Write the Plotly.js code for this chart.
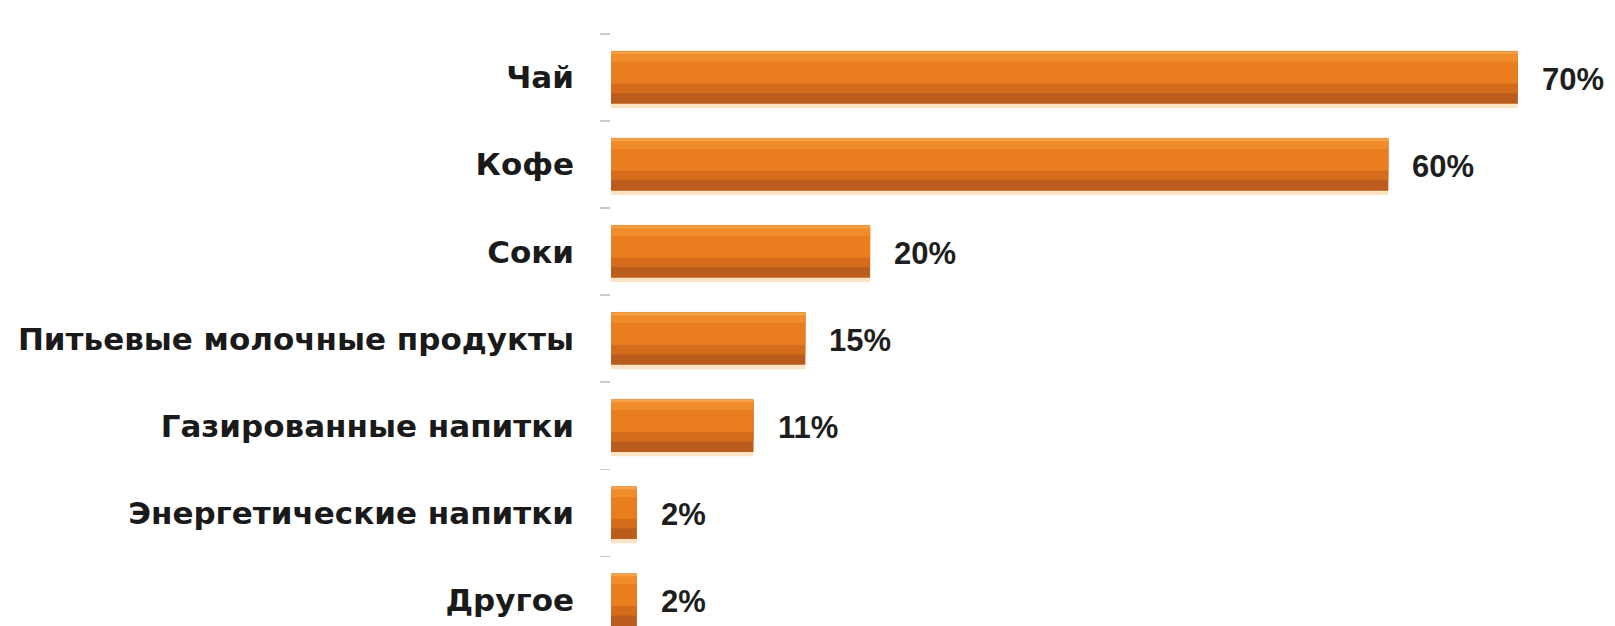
<!DOCTYPE html>
<html>
<head>
<meta charset="utf-8">
<script src="https://cdn.plot.ly/plotly-3.0.1.min.js"></script>
<style>html,body{margin:0;padding:0;background:#fff;}</style>
</head>
<body>
<div id="chart" style="width:1615px;height:626px;"></div>
<script>
const categories = ["Чай", "Кофе", "Соки", "Питьевые молочные продукты", "Газированные напитки", "Энергетические напитки", "Другое"];
const values = [70, 60, 20, 15, 11, 2, 2];
const valueLabels = ["70%", "60%", "20%", "15%", "11%", "2%", "2%"];

const labelFont = "DejaVu Sans, Liberation Sans, Arial, sans-serif";
const valueFont = "Liberation Sans, Arial, sans-serif";

const base = {
  type: "bar", orientation: "h", x: values, y: categories,
  hoverinfo: "skip", showlegend: false
};
const traces = [
  Object.assign({}, base, {marker: {color: "#FBE3C4"}, width: 0.66, offset: -0.31}),
  Object.assign({}, base, {marker: {color: "#BA5D1C"}, width: 0.6, offset: -0.3}),
  Object.assign({}, base, {marker: {color: "#D46C1C"}, width: 0.48, offset: -0.3}),
  Object.assign({}, base, {marker: {color: "#EA7E1E"}, width: 0.37, offset: -0.3}),
  Object.assign({}, base, {marker: {color: "#F08C2A"}, width: 0.12, offset: -0.3}),
  Object.assign({}, base, {marker: {color: "#F3A24A"}, width: 0.03, offset: -0.3})
];

const annotations = categories.map((c, i) => ({
  x: values[i], y: c, xref: "x", yref: "y",
  text: valueLabels[i], showarrow: false,
  xanchor: "left", yanchor: "middle", xshift: 22, yshift: -2,
  font: {family: valueFont, size: 31, color: "#1e1e1e", weight: "bold"}
}));

const layout = {
  width: 1615, height: 626,
  margin: {l: 611, r: 0, t: 34, b: 0, pad: 0},
  paper_bgcolor: "#ffffff", plot_bgcolor: "#ffffff",
  barmode: "overlay",
  xaxis: {range: [0, 77.5], visible: false, fixedrange: true},
  yaxis: {
    type: "category",
    categoryorder: "array", categoryarray: categories,
    range: [6.3, -0.5],
    automargin: false,
    showgrid: false, zeroline: false, showline: false,
    ticks: "outside", ticklen: 10, tickwidth: 1.5, tickcolor: "#c4ccd6",
    tickson: "boundaries",
    ticklabelstandoff: 36,
    tickfont: {family: labelFont, size: 31, color: "#1a1a1a", weight: "bold"}
  },
  annotations: annotations
};

Plotly.newPlot("chart", traces, layout, {displayModeBar: false, staticPlot: true});
</script>
</body>
</html>
